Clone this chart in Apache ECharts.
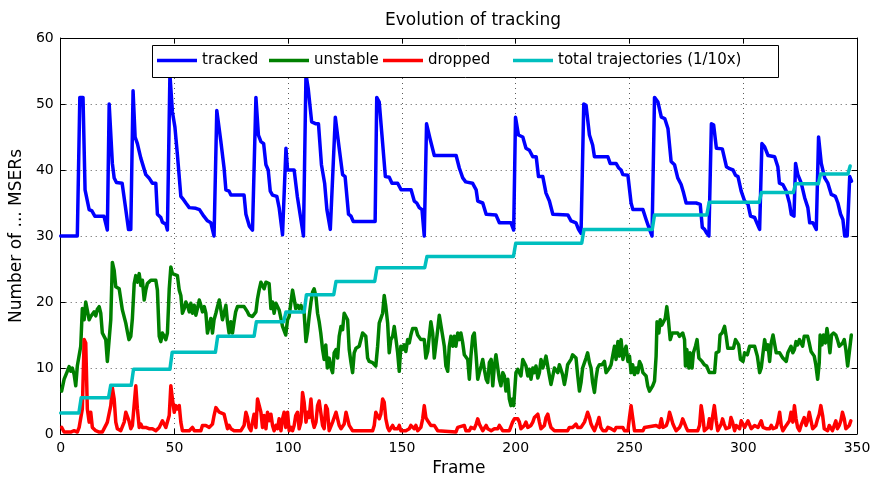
<!DOCTYPE html>
<html>
<head>
<meta charset="utf-8">
<script src="https://cdn.jsdelivr.net/npm/echarts@6/dist/echarts.min.js"></script>
<style>
  html, body { margin: 0; padding: 0; background: #fff; }
  #chart { width: 874px; height: 482px; }
</style>
</head>
<body>
<div id="chart"></div>
<script>
// Per-frame counts of MSERs, given as [frame, count] pairs.
const seriesNames = ['tracked', 'unstable', 'dropped', 'total trajectories (1/10x)'];
const xTicks = [0, 50, 100, 150, 200, 250, 300, 350];
const yTicks = [0, 10, 20, 30, 40, 50, 60];

const tracked = [[0,30],[7.3,30],[8.4,51],[9.8,51],[10.7,37],[11.5,36.8],[12.5,34],[13.7,33.8],[15,33],[19,33],[20.5,30.9],[21.3,50],[22.7,41],[23.5,38.8],[24.5,38.1],[27,38],[28.6,34],[29.8,31],[30.8,31],[31.8,52],[32.7,45],[33.7,44],[35.2,41.8],[37.4,39.3],[38.8,38.8],[40.3,38],[41.8,38],[42.5,33.3],[44,32.8],[44.7,32.1],[46.2,31.8],[46.9,30.9],[48,54.5],[49.1,48.8],[50.2,46.5],[51.3,42.3],[52.8,36],[54,35.5],[55,35],[56.5,34.3],[59.4,34.2],[61,34],[62.9,33],[64.5,32.3],[66,32],[67.4,30],[68.6,49],[70.4,44.3],[71.8,40.3],[72.6,37],[74,36.8],[74.8,36.2],[80.6,36.2],[81.4,33.3],[82.9,31.5],[84.3,30.9],[85.8,51],[86.9,45.3],[88,44.3],[89.2,44],[90.2,40.8],[91.2,40],[92.1,36.8],[93.1,36.2],[95,36],[96,34.3],[97.5,30.2],[99,43.3],[99.7,40],[102.6,40],[104,36],[104.8,36],[106.7,30],[107.8,54.5],[108.8,52.3],[110.3,47.3],[112.2,47],[113.3,47],[114.6,40.8],[116,38],[117,34],[118.5,31],[119.3,30.9],[120.7,48],[122.4,43.3],[123.9,39.3],[125,39],[126.5,33.3],[127.6,33],[128.6,32.2],[138.2,32.2],[138.9,51],[140,50.3],[141.2,45.3],[142.7,39],[144.4,38.9],[145.6,38],[148.1,38],[149.6,37],[154,37],[155.4,35.3],[156.5,35],[157.6,34.3],[158.8,34],[159.8,30],[160.8,47],[162.3,44.8],[164.2,42.2],[173.8,42.2],[175.2,40.3],[176.7,38.8],[178,38.2],[181,38],[182.6,37],[183.3,35.3],[185.5,35],[187,33.3],[191.3,33.2],[192.8,32],[197.9,32],[199.1,30.9],[199.9,48],[201.2,45.3],[203.1,45],[204.5,43.3],[206,43],[207.5,42],[209,42],[210,39],[211.9,39],[213.3,36.5],[214.8,35.3],[216.3,33.3],[222.9,33.2],[224.3,32.3],[226.5,32],[227.6,31],[228.7,30.4],[229.9,50],[230.9,49.8],[232.4,45.3],[233.8,43.8],[234.6,42],[240.5,42],[241.5,41],[244.1,41],[245.3,40.3],[246.3,40],[247.1,39.3],[249.3,39.2],[250.7,35],[251.5,34],[255.9,34],[257.3,32.5],[258.8,31],[259.9,30],[261,51],[262.5,50.3],[264,48],[265.5,47.8],[266.9,46.3],[268.3,41.3],[269.8,40.8],[271.2,38.8],[272.7,37.8],[273.8,36.5],[274.9,35],[279.3,35],[281.1,34.8],[282,31.3],[283,31],[283.8,30.5],[284.9,30],[286,47],[287,46.8],[288.2,43.3],[290.8,43.2],[292.6,40.5],[294,40.2],[295.5,40],[296.6,39.2],[297.7,39],[299.1,36.8],[300.6,35.3],[302.1,34.8],[303.2,33],[305,32.8],[306.2,31.8],[307.2,31],[308.2,44],[309.4,43.5],[310.9,42.2],[313.8,42],[315.2,40.5],[315.9,38],[317.4,37.8],[318.9,36.8],[320.3,35],[321.1,33.3],[322.3,33],[323,41],[324,39.3],[325.5,38],[327,35.8],[328.4,34.3],[329.2,32],[330.6,32],[332.1,31],[333.1,45],[334.3,41],[335.8,38.8],[337.2,38],[338.7,36.3],[340.5,36],[341.6,35],[342.8,33.3],[343.8,32.5],[344.6,30],[345.7,30],[346.8,39],[347.6,38.3]];

const unstable = [[0.4,6.5],[1.5,8.3],[2.2,8.5],[2.9,9.5],[3.7,10.2],[4.4,9.5],[5.1,10],[5.9,9],[6.6,7.3],[7.3,10.3],[8.1,10.3],[8.8,13.3],[9.5,19],[10.3,17.3],[11,20],[11.7,19.8],[12.5,17.3],[13.2,17.8],[13.9,17.8],[14.7,18.5],[15.4,17.9],[16.1,18.9],[16.9,19.3],[17.6,18.3],[18.3,15.3],[19,15],[19.8,14.3],[20.5,11],[21.3,11],[22,17.3],[22.7,26],[23.5,24.8],[24.2,22.3],[24.9,22.3],[25.7,22],[27.1,18.8],[28.6,16.8],[29.3,15.5],[30,14.3],[30.8,14.8],[31.5,17.5],[32.3,22.8],[33,24],[33.7,23],[34.5,24.3],[35.2,22.5],[35.9,23.3],[36.7,20.3],[37.4,21.8],[38.1,22.8],[39.6,23.3],[41.8,23.3],[42.5,21.8],[43.3,14.8],[44,14],[44.7,15.3],[45.5,14.8],[46.2,14.3],[46.9,15.3],[47.7,22],[48.4,25.3],[49.1,24.3],[49.9,24.3],[51.3,24],[52.1,21.8],[52.8,21],[53.5,18.3],[54.3,19],[55,20],[55.7,19.5],[56.5,18.5],[57.2,19.8],[57.9,18.3],[58.7,19.5],[59.4,18],[60.1,19],[60.9,20.3],[61.6,19.5],[62.3,18.5],[63.1,19.3],[63.8,18.3],[64.5,15.3],[65.3,15],[66,17.5],[66.7,15.3],[67.4,17.3],[68.2,18.3],[68.9,19.3],[69.7,20.3],[70.4,18.8],[71.1,17.3],[71.8,18.3],[72.6,19.5],[73.3,17],[74,15.3],[74.8,17],[75.5,15.3],[76.2,17],[76.9,18.5],[77.7,19.3],[80.6,19.3],[81.4,19],[82.1,18.5],[82.8,18],[83.6,18.3],[84.3,17.8],[85,17.5],[85.8,18.5],[86.5,20.5],[87.2,21.8],[88,23],[88.7,22.8],[89.4,22],[90.2,23],[90.9,23],[91.6,22.8],[92.4,19],[93.1,20],[93.8,18.3],[94.6,19.8],[95.3,20],[96,18.8],[96.8,17.5],[97.5,16.3],[98.2,16],[98.9,15],[99.7,17.3],[100.4,17.8],[101.2,20],[101.9,21.8],[102.6,20.5],[103.3,19],[104.1,19.5],[104.8,19],[105.6,19.5],[106.3,19.3],[107,18.3],[107.8,14],[108.5,15.5],[109.2,17.8],[110,20],[110.7,21.5],[111.4,22],[112.2,20.8],[112.9,18.3],[113.6,17],[114.3,15.3],[115.1,12.8],[115.8,11.3],[116.5,13.5],[117.2,10],[118,11.5],[118.8,10],[119.5,9.3],[120.2,12.3],[121,12.8],[121.7,11.5],[122.4,14.8],[123.2,16.3],[123.9,15.8],[124.6,18.3],[125.4,18.3],[126.1,17.3],[126.8,12.8],[127.6,10.8],[128.3,9.3],[129,12.3],[129.8,13],[131.2,13.3],[131.9,13.5],[132.7,15.3],[133.4,15],[134.1,14.8],[134.9,11.5],[135.6,11],[136.3,11.3],[137.1,10.8],[137.8,11],[138.5,10.3],[139.3,13.3],[140,16.8],[140.7,16.5],[141.5,18.3],[142.2,21],[142.9,19.3],[143.7,16.8],[144.4,12.3],[145.1,14.3],[145.9,14.8],[146.6,16.3],[147.3,14.5],[148.1,12.3],[148.8,9.5],[149.5,13.3],[150.3,12.8],[151,13.5],[151.7,12.5],[152.5,14.3],[153.2,13.8],[153.9,15],[154.7,16],[155.4,16.3],[156.1,16],[156.9,15],[157.6,14.8],[158.3,14.3],[159.1,14.5],[159.8,14.3],[160.5,11.5],[161.3,12.5],[162,14.8],[162.7,17],[163.5,15.3],[164.2,11.5],[164.9,11.3],[165.7,15.8],[166.4,18],[167.1,18.3],[167.9,14.8],[168.6,13.3],[169.3,10.3],[170.1,9.5],[170.8,13.3],[171.5,14.8],[172.3,13.3],[173,14.8],[173.7,13.3],[174.5,15.3],[175.2,14.3],[175.9,15.3],[176.7,13.8],[177.4,12],[178.1,11.8],[178.9,11.3],[179.6,8.3],[180.3,11.8],[181.1,14.8],[181.8,15.3],[182.6,11.8],[183.3,8.3],[184,9.3],[184.8,10.3],[185.5,11.3],[186.2,9.8],[187,8.3],[187.7,7.8],[188.4,10.8],[189.2,11.3],[189.9,7.3],[190.6,10.3],[191.3,12],[192.1,11.8],[192.8,8.3],[193.5,7.3],[194.3,9.3],[195,8.8],[195.7,6.5],[196.5,8.3],[197.2,5.3],[197.9,4.3],[198.6,5.3],[199.1,4.3],[199.6,6.8],[200.1,9.3],[200.9,9.8],[201.6,10],[202.3,8.8],[203.1,11.3],[203.8,10.8],[204.5,10.3],[205.3,8.8],[206,9.8],[206.7,8.3],[207.5,10],[208.2,9.3],[208.9,10.3],[209.7,8.5],[210.4,9.3],[211.1,11.3],[211.9,10],[212.6,10.8],[213.3,11.8],[214.1,12],[214.8,8.8],[215.5,7.5],[216.3,8.8],[217,10],[217.7,10.3],[218.5,9.3],[219.2,10.5],[219.9,10.5],[220.6,9],[221.4,7.5],[222.1,8.8],[222.8,10.5],[223.6,10.5],[224.3,11.3],[225,12],[225.8,12.3],[226.5,11.5],[227.2,9],[228,6.5],[228.7,7.8],[229.4,10],[230.2,9.8],[230.9,11.5],[231.6,12.3],[232.4,10.8],[233.1,10],[233.8,7.8],[234.6,6.3],[235.3,8.5],[236,10],[236.8,10.5],[237.9,10.5],[239,11],[239.7,9.3],[240.5,9.5],[241.2,10],[241.9,10.5],[242.7,12],[243.4,13.3],[244.1,11.3],[244.9,14],[245.6,11.8],[246.3,14.3],[247.1,11.3],[247.8,12.5],[248.5,13.3],[249.3,11],[250,11.8],[250.7,9.3],[251.4,10.5],[252.2,9],[252.9,10],[253.7,9.3],[254.4,11],[255.1,10.5],[255.9,9.3],[256.6,9.5],[257.3,8.8],[258,7.3],[258.8,6.5],[259.5,6.3],[260.2,7.3],[261,8],[261.7,11.8],[262.1,17],[262.9,15.3],[263.5,17.3],[264.2,16.5],[264.9,16.3],[265.7,17.5],[266.4,19.3],[267.1,17.3],[267.9,14.3],[268.8,15.3],[269.8,15.3],[271.2,15.3],[272,14.8],[272.7,15],[273.4,15.3],[274.2,14.3],[274.6,10.3],[275.2,12.8],[276.1,10],[276.6,12.3],[277.5,10],[278.1,12.3],[279,13.3],[279.7,14.3],[280.5,11.5],[281,11.3],[281.9,11],[282.9,10.5],[283.9,10.3],[285.1,9.3],[286.4,9.3],[287.4,9.3],[288.1,12.3],[289.3,12.5],[289.8,15],[290.7,15.3],[291.8,16.3],[292.5,14.8],[293.2,13],[294.6,13],[295.7,13],[296.6,14.3],[297.4,14.3],[298,13.5],[298.8,11.3],[299.9,11],[300.6,12.3],[301.8,12],[302.8,13.3],[305,13.3],[306.2,11.8],[307.2,9.3],[307.9,10],[308.6,12],[309.4,14.3],[310.1,12.8],[310.9,13.5],[311.6,11],[312.3,13.8],[313.1,15],[313.8,15.3],[314.5,12.3],[315.2,12.5],[316,12.3],[316.7,12],[317.4,11.5],[318.1,11.3],[318.9,11],[319.6,12.3],[320.3,12.8],[321,13.3],[321.8,12.3],[322.5,12.8],[323.2,14],[323.9,13.5],[324.7,14.3],[325.4,13.8],[326.1,13.3],[326.8,14.8],[327.6,15],[328.3,14.8],[329,13.8],[329.8,12.5],[330.5,12.5],[331.2,11.8],[331.9,10.5],[332.7,8.3],[333.4,10.8],[333.8,15],[334.6,13.5],[335.3,15],[336.1,13.8],[336.8,16],[337.3,14.8],[338.1,12.3],[338.8,15],[339.7,15.3],[340.7,15],[341.4,14.3],[342.2,13.3],[342.9,13],[343.7,13.8],[344.4,14.3],[345.1,12.8],[345.9,10.3],[346.6,12.3],[347.5,15]];

const dropped = [[0.4,1],[1.5,0.3],[2.9,0.3],[4.4,0.3],[5.9,0.5],[7.3,0.3],[8.1,1],[8.8,1.3],[9.5,3.8],[10.3,14.3],[11,13.8],[11.7,3.8],[12.5,1.8],[13.2,3.3],[13.9,1],[14.7,1.3],[15.4,0.5],[16.9,0.3],[18.3,0.3],[19.8,1.3],[20.5,1.8],[21.3,1.5],[22,4.3],[22.7,7],[23.5,5.3],[24.2,1.8],[24.9,0.8],[26.4,0.5],[27.9,1.8],[28.6,3.3],[29.3,3.3],[30,2],[30.8,0.8],[31.5,1.3],[32.3,4.5],[33,7.3],[33.7,3.8],[34.5,1],[35.2,1.5],[35.9,1],[37.4,1],[38.8,0.8],[40.3,0.8],[41.8,0.5],[43.3,1],[44.7,2],[46.2,1],[47.7,2.8],[48.4,7.3],[49.1,5.3],[49.9,3.3],[50.6,4.3],[51.3,3.8],[52.1,4.3],[52.8,1.8],[53.5,0.5],[55,0.5],[56.5,0.5],[57.9,1],[58.7,0.5],[60.1,0.5],[61.6,0.5],[62.3,1.3],[63.1,1],[63.8,1.3],[64.5,1],[65.3,1],[66,1.3],[66.7,1.5],[67.4,2.8],[68.2,4],[68.9,4],[69.7,3.3],[70.4,3],[71.8,3],[72.6,2.8],[73.3,0.8],[74,1.3],[74.8,0.8],[76.2,0.5],[77.7,0.5],[79.2,0.5],[80.6,1.3],[81.4,3.3],[82.1,2.5],[82.8,1],[83.6,0.5],[84.3,1.8],[85,3],[85.8,1],[86.5,5.3],[87.2,5.3],[88,3.3],[88.7,1],[89.4,2.8],[90.2,0.8],[90.9,3.3],[91.6,2],[92.4,3],[93.1,1.3],[93.8,0.5],[94.6,1.3],[95.3,0.8],[96,2.3],[96.8,0.5],[97.5,2.3],[98.2,3.3],[98.9,1],[99.7,3.3],[100.4,0.5],[101.2,1],[101.9,0.5],[102.6,1.3],[103.3,2.8],[104.1,3.3],[104.8,0.8],[105.6,1.8],[106.3,6.3],[107,4.8],[107.8,1.8],[108.5,3.3],[109.2,2.5],[110,5.3],[110.7,2],[111.4,1],[112.2,1.8],[112.9,4.3],[113.6,5],[114.3,3.3],[115.1,1.3],[115.8,0.8],[116.5,4.3],[117.2,3.8],[118,0.5],[118.8,0.5],[119.5,1.8],[120.2,2.5],[121,3.3],[121.7,3.3],[122.4,1.3],[123.2,0.8],[123.9,0.5],[124.6,1.5],[125.4,3.3],[126.1,3],[126.8,1.3],[127.6,1],[128.3,0.5],[137.1,0.5],[137.8,1.3],[138.5,3.3],[139.3,3],[140,2.3],[140.7,3],[141.5,5.3],[142.2,4.8],[142.9,2.3],[143.7,1],[144.4,0.5],[145.1,0.5],[145.9,1.3],[146.6,0.8],[147.3,0.5],[148.1,0.8],[148.8,1.3],[149.5,0.5],[151.7,0.5],[153.2,0.8],[153.9,1.3],[154.7,1],[155.4,0.8],[156.1,1.3],[156.9,0.5],[157.6,0.5],[158.3,1],[159.1,2.3],[159.8,4.3],[160.5,2.5],[161.3,2],[162,2.3],[162.7,1.3],[163.5,1],[164.2,1.3],[164.9,1],[165.7,0.5],[166.4,0.3],[173.7,0.3],[174.5,1],[175.2,1.3],[177.4,1.3],[178.1,0.5],[179.6,0.5],[180.3,1],[181.1,1.3],[181.8,0.8],[182.6,1.5],[183.3,2.3],[184,1.5],[184.8,1.3],[185.5,0.5],[186.2,0.8],[187,1.3],[187.7,0.8],[189.2,0.5],[190.6,0.8],[191.3,0.5],[192.1,0.8],[192.8,1.3],[193.5,1],[194.3,0.5],[197.2,0.5],[197.9,0.8],[198.6,1.8],[199.4,2.3],[200.9,2.3],[201.6,1.8],[202.3,0.8],[203.1,0.8],[203.8,1.3],[204.5,1.8],[205.3,1],[206,1],[206.7,1.3],[207.5,1.8],[208.2,2.5],[208.9,2.3],[209.7,3],[210.4,1.8],[211.1,0.8],[211.9,0.5],[212.6,1.3],[213.3,2.5],[214.1,3],[214.8,1.8],[215.5,1],[216.3,0.8],[217,0.5],[222.8,0.5],[223.6,1],[224.3,1.3],[225,1],[225.8,1.3],[226.5,1.5],[227.2,1],[228,0.8],[228.7,1],[229.4,1.3],[230.2,1.8],[230.9,2.5],[231.6,3.3],[232.4,2.5],[233.1,1.5],[233.8,1],[234.6,0.5],[235.3,0.8],[236,1.8],[236.6,2.5],[237.4,1],[238.3,0.5],[239.7,0.5],[240.5,1],[241.2,1.3],[241.9,0.8],[243.4,0.5],[244.1,1],[244.9,1.3],[245.6,1],[246.3,1.3],[247.1,1],[247.8,0.5],[249.3,0.5],[250,2.5],[250.7,4.3],[251.4,2.5],[252.2,0.5],[255.9,0.5],[256.6,1],[257.3,1.3],[261.7,1.3],[262.5,1.5],[263.2,1],[264,2.3],[264.7,1],[265.4,0.8],[266.2,1.3],[266.9,2],[267.6,3.3],[268.3,2.5],[269.1,1.5],[269.8,1],[270.5,0.5],[271.2,0.5],[272,1],[272.7,1.5],[273.4,2.3],[274.2,2],[274.9,1],[275.6,0.5],[280,0.5],[280.8,1.3],[281.5,4.3],[282.2,2.8],[282.9,0.5],[283.7,0.5],[284.5,1],[285.1,2.3],[285.9,0.8],[286.6,2.8],[287.3,4.3],[288.1,2],[288.8,0.5],[289.6,0.5],[290.3,1.5],[290.9,2.3],[291.6,1.5],[292.4,0.8],[293.2,0.5],[293.9,1],[294.6,2.5],[295.3,1.8],[296.2,0.5],[296.9,1.3],[297.7,1.3],[298.4,0.8],[299.1,2],[299.8,2.3],[300.6,1],[301.3,0.8],[302.1,2],[302.8,2.3],[303.5,0.8],[304.3,0.5],[305,1.3],[305.7,1],[306.5,1],[307.2,1.3],[307.9,2],[308.7,1],[309.4,1.3],[310.1,0.8],[310.9,0.5],[311.6,0.8],[312.3,1.3],[313.1,0.8],[313.8,0.5],[314.5,1],[315.2,1.8],[316,3.3],[316.7,1.3],[317.4,0.5],[318.1,0.8],[318.9,1.3],[319.6,1],[320.3,2],[321,3.3],[321.8,1.8],[322.5,4.3],[323.2,2.3],[323.9,1],[324.7,0.5],[325.4,1.3],[326.1,1],[326.8,2.5],[327.6,1.3],[328.3,2],[329,3.3],[329.8,2],[330.5,0.8],[331.2,1],[331.9,1.3],[332.7,2.3],[333.4,3],[334.1,4.3],[334.9,2.8],[335.6,0.8],[336.3,0.8],[337.1,0.5],[337.8,1.3],[338.5,1],[339.2,0.5],[340,1.3],[340.7,2],[341.4,0.8],[342.2,1.3],[342.9,2],[343.6,3.3],[344.4,2.3],[345.1,0.8],[345.8,0.5],[346.6,1.3],[347.3,2]];

// Running total of trajectories, scaled by 1/10.
const totalTrajectories = [[0,3.2],[8,3.2],[9,5.5],[21,5.5],[22,7.4],[31,7.4],[32,9.8],[48,9.8],[49,12.4],[68,12.4],[69,14.8],[85,14.8],[86,17],[98,17],[99,18.5],[107,18.5],[108,21.1],[120,21.1],[121,23.1],[138,23.1],[139,25.2],[160,25.2],[161,26.9],[199,26.9],[200,28.9],[229,28.9],[230,31],[260,31],[261,33.2],[284,33.2],[285,35.1],[307,35.1],[308,36.6],[322,36.6],[323,37.9],[333,37.9],[334,39.4],[346,39.4],[347,40.6]];

const colors = ['#0000ff', '#008000', '#ff0000', '#00bfbf'];
const FONT = '"DejaVu Sans", Verdana, sans-serif';

const chart = echarts.init(document.getElementById('chart'), null, { renderer: 'canvas' });

const gridDots = { show: true, lineStyle: { color: '#5a5a5a', width: 1, type: [1, 4] } };
const tickIn = { show: true, inside: true, length: 5, lineStyle: { color: '#000', width: 1 } };
const blackLine = { show: true, onZero: false, lineStyle: { color: '#000', width: 1 } };

const legendIconX = [157, 269, 383, 513];

const option = {
  animation: false,
  backgroundColor: '#fff',
  title: {
    text: 'Evolution of tracking',
    left: 468, top: 7, textAlign: 'center',
    textStyle: { fontFamily: FONT, fontSize: 17, fontWeight: 'normal', color: '#000' }
  },
  grid: { left: 60, right: 17, top: 38, bottom: 44, show: false },
  graphic: [{
    type: 'rect', z: 50, zlevel: 0,
    shape: { x: 152.5, y: 45.5, width: 626, height: 32 },
    style: { fill: '#fff', stroke: '#000', lineWidth: 1 }
  }],
  legend: seriesNames.map((n, i) => ({
    data: [n], left: legendIconX[i], top: 53, padding: 0, z: 60,
    icon: 'rect', itemWidth: 40, itemHeight: 3.5, itemGap: 0,
    textStyle: { fontFamily: FONT, fontSize: 15, color: '#000', padding: [0, 0, 0, 0] },
    selectedMode: false
  })),
  xAxis: [{
    type: 'value', min: 0, max: 350, interval: 50,
    name: 'Frame', nameLocation: 'middle', nameGap: 26,
    nameTextStyle: { fontFamily: FONT, fontSize: 17, color: '#000' },
    axisLine: blackLine, axisTick: tickIn, splitLine: gridDots,
    axisLabel: { fontFamily: FONT, fontSize: 14, color: '#000', margin: 7,
      formatter: v => xTicks.includes(v) ? String(v) : '' }
  }, {
    type: 'value', min: 0, max: 350, interval: 50, position: 'top',
    axisLine: blackLine, axisTick: tickIn, splitLine: { show: false }, axisLabel: { show: false }
  }],
  yAxis: [{
    type: 'value', min: 0, max: 60, interval: 10,
    name: 'Number of ... MSERs', nameLocation: 'middle', nameGap: 35,
    nameTextStyle: { fontFamily: FONT, fontSize: 17, color: '#000' },
    axisLine: blackLine, axisTick: tickIn, splitLine: gridDots,
    axisLabel: { fontFamily: FONT, fontSize: 14, color: '#000', margin: 7,
      formatter: v => yTicks.includes(v) ? String(v) : '' }
  }, {
    type: 'value', min: 0, max: 60, interval: 10, position: 'right',
    axisLine: blackLine, axisTick: tickIn, splitLine: { show: false }, axisLabel: { show: false }
  }],
  series: [tracked, unstable, dropped, totalTrajectories].map((d, i) => ({
    name: seriesNames[i], type: 'line', data: d,
    xAxisIndex: 0, yAxisIndex: 0,
    showSymbol: false, symbol: 'none', smooth: false,
    color: colors[i],
    lineStyle: { color: colors[i], width: 3.5, join: 'round', cap: 'round' },
    z: 2 + i
  }))
};

chart.setOption(option);
</script>
</body>
</html>
